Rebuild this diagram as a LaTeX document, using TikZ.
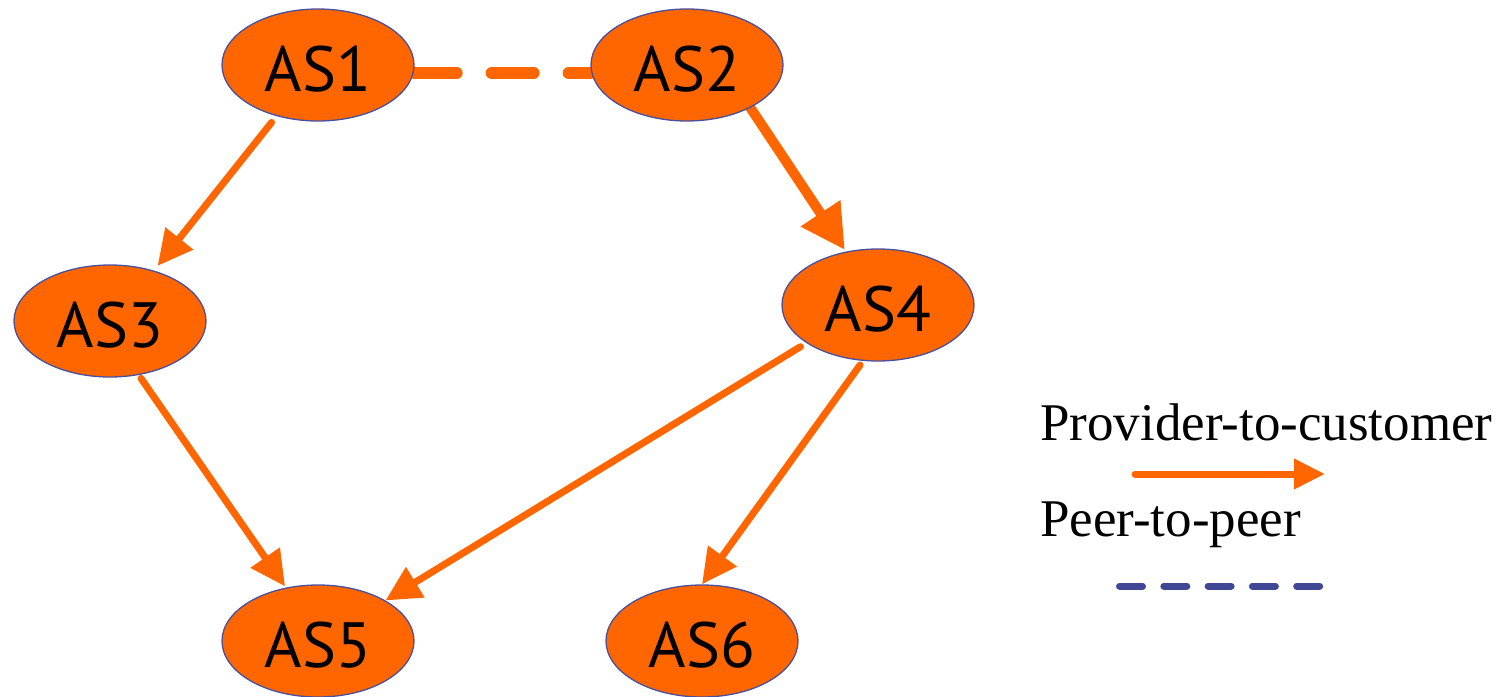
\documentclass[tikz,border=0pt]{standalone}
\usepackage{fontspec}
\setmainfont{Liberation Serif}
\newfontfamily\asfont{PT Sans}
\usetikzlibrary{arrows.meta,backgrounds,shapes.geometric}
\definecolor{asorange}{RGB}{255,102,0}
\definecolor{asedge}{RGB}{72,80,160}
\definecolor{peerblue}{RGB}{64,72,150}

\begin{document}
\begin{tikzpicture}[x=1pt,y=-1pt,
  asnode/.style={ellipse, draw=asedge, line width=1.3pt, fill=asorange,
    minimum width=192pt, minimum height=112pt, inner sep=0pt,
    font=\asfont\fontsize{64}{70}\selectfont, text height=53pt, text depth=0pt},
  pc/.style={draw=asorange, line width=7pt, line cap=round,
    -{Triangle[length=35pt,width=34pt]}},
  pcthick/.style={draw=asorange, line width=10pt, line cap=round,
    -{Triangle[length=44pt,width=45pt]}},
  peerlink/.style={draw=asorange, line width=12pt, line cap=round,
    dash pattern=on 42pt off 35pt},
  legendtext/.style={anchor=base west, inner sep=0pt,
    font=\fontsize{53}{60}\selectfont}
]
\useasboundingbox (0,0) rectangle (1509,696);

% autonomous systems
\node[asnode] (as1) at (318,65)  {AS1};
\node[asnode] (as2) at (687,65)  {AS2};
\node[asnode] (as3) at (110,321) {AS3};
\node[asnode] (as4) at (878,305) {AS4};
\node[asnode] (as5) at (318,641) {AS5};
\node[asnode] (as6) at (702,641) {AS6};

% relationships, kept behind the nodes
\begin{scope}[on background layer]
  \draw[peerlink] ([yshift=-8pt]as1.east) -- ([yshift=-8pt]as2.west);
  \draw[pc, shorten <=8pt, shorten >=6pt] (as1.-129) -- (as3.49.5);
  \draw[pcthick, shorten >=2pt] (as2.-34.5) -- (as4.121);
  \draw[pc, shorten <=4pt, shorten >=1.5pt] (as3.-62.2) -- (as5.121.4);
  \draw[pc, shorten <=7pt] (as4.-152.3) -- (as5.31);
  \draw[pc, shorten <=5pt] (as4.-105) -- (as6.90);
\end{scope}

% legend
\node[legendtext] (ptc) at (1040,440) {Provider-to-customer};
\node[legendtext] (ptp) at (1040,536) {Peer-to-peer};
\coordinate (pcs) at (1135,474);
\coordinate (pce) at (1325,474);
\draw[draw=asorange, line width=7pt, line cap=round,
  -{Triangle[length=31pt,width=29pt]}] (pcs) -- (pce);
\coordinate (pps) at (1119.5,586);
\coordinate (ppe) at (1319.7,586);
\draw[peerblue, line width=7pt, line cap=round,
  dash pattern=on 23pt off 21.3pt] (pps) -- (ppe);
\end{tikzpicture}
\end{document}
